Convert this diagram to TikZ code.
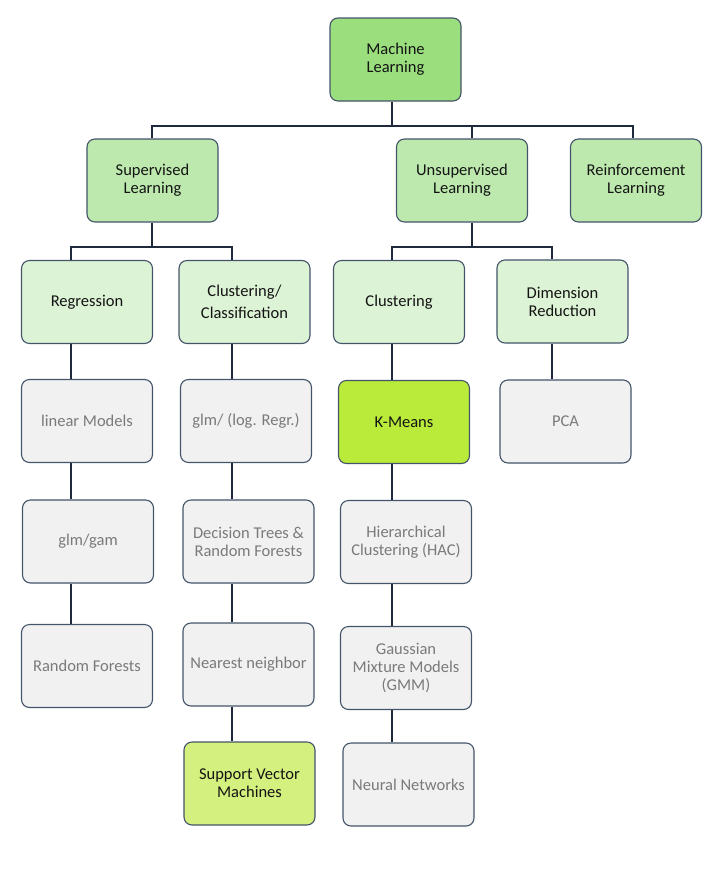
\documentclass[tikz,border=0pt]{standalone}
\usepackage{fontspec}
\setmainfont{Carlito}
\definecolor{cML}{HTML}{9ADE7D}
\definecolor{cL2}{HTML}{BDE9AE}
\definecolor{cL3}{HTML}{DDF3D5}
\definecolor{cGray}{HTML}{F1F1F1}
\definecolor{cKM}{HTML}{BAEA3A}
\definecolor{cSVM}{HTML}{D4F07E}
\definecolor{cBorder}{HTML}{44546A}
\definecolor{cLine}{HTML}{1F2A3C}
\definecolor{cGrayText}{HTML}{7A7A7A}
\definecolor{cDarkText}{HTML}{141414}
\tikzset{
  box/.style={draw=cBorder, line width=1.1pt, rounded corners=8pt,
    minimum width=131pt, minimum height=83pt, inner sep=2pt, align=center,
    font=\fontsize{16.5}{18}\selectfont},
  greenbox/.style={box, text=cDarkText},
  graybox/.style={box, fill=cGray, text=cGrayText},
  conn/.style={draw=cLine, line width=2.6pt, line join=miter}
}
\begin{document}
\begin{tikzpicture}[x=1pt,y=-1pt]
\useasboundingbox (0,0) rectangle (720,871);
% nodes
\node[greenbox, fill=cML] (ml) at (395.5,59.5) {Machine\\Learning};
\node[greenbox, fill=cL2] (sup) at (152.5,180.5) {Supervised\\Learning};
\node[greenbox, fill=cL2] (uns) at (462,180.5) {Unsupervised\\Learning};
\node[greenbox, fill=cL2] (rei) at (636,180.5) {Reinforcement\\Learning};
\node[greenbox, fill=cL3] (reg) at (87,302) {Regression};
\node[greenbox, fill=cL3] (cc) at (244.5,302) {Clustering/\\[4pt]Classification};
\node[greenbox, fill=cL3] (clu) at (399,302) {Clustering};
\node[greenbox, fill=cL3] (dim) at (562.5,301.5) {Dimension\\Reduction};
\node[graybox] (lin) at (87,421) {linear Models};
\node[graybox] (glr) at (246,421) {glm/ (log. Regr.)};
\node[greenbox, fill=cKM] (km) at (404,422) {K-Means};
\node[graybox] (pca) at (565.5,421.5) {PCA};
\node[graybox] (gg) at (88,541.5) {glm/gam};
\node[graybox] (dt) at (248.5,541.5) {Decision Trees \&\\Random Forests};
\node[graybox] (hac) at (406,542) {Hierarchical\\Clustering (HAC)};
\node[graybox] (rf) at (87,666) {Random Forests};
\node[graybox] (nn) at (248.5,664.5) {Nearest neighbor};
\node[graybox] (gmm) at (406,668) {Gaussian\\Mixture Models\\(GMM)};
\node[greenbox, fill=cSVM] (svm) at (249.5,783.5) {Support Vector\\Machines};
\node[graybox] (neu) at (408.5,784.5) {Neural Networks};
% junctions
\coordinate (j0) at (392,126);
\coordinate (j1) at (152,126);
\coordinate (j2) at (472,126);
\coordinate (j3) at (633,126);
\coordinate (s0) at (152,247);
\coordinate (s1) at (71,247);
\coordinate (s2) at (232,247);
\coordinate (u0) at (472,247);
\coordinate (u1) at (392,247);
\coordinate (u2) at (552,247);
% top level
\draw[conn] (ml.south -| j0) -- (j0);
\draw[conn] (sup.north -| j1) -- (j1) -- (j3) -- (rei.north -| j3);
\draw[conn] (j2) -- (uns.north -| j2);
% supervised
\draw[conn] (sup.south -| s0) -- (s0);
\draw[conn] (reg.north -| s1) -- (s1) -- (s2) -- (cc.north -| s2);
% unsupervised
\draw[conn] (uns.south -| u0) -- (u0);
\draw[conn] (clu.north -| u1) -- (u1) -- (u2) -- (dim.north -| u2);
% regression column
\draw[conn] (reg.south -| s1) -- (lin.north -| s1);
\draw[conn] (lin.south -| s1) -- (gg.north -| s1);
\draw[conn] (gg.south -| s1) -- (rf.north -| s1);
% classification column
\draw[conn] (cc.south -| s2) -- (glr.north -| s2);
\draw[conn] (glr.south -| s2) -- (dt.north -| s2);
\draw[conn] (dt.south -| s2) -- (nn.north -| s2);
\draw[conn] (nn.south -| s2) -- (svm.north -| s2);
% clustering column
\draw[conn] (clu.south -| u1) -- (km.north -| u1);
\draw[conn] (km.south -| u1) -- (hac.north -| u1);
\draw[conn] (hac.south -| u1) -- (gmm.north -| u1);
\draw[conn] (gmm.south -| u1) -- (neu.north -| u1);
% dimension reduction
\draw[conn] (dim.south -| u2) -- (pca.north -| u2);
\end{tikzpicture}
\end{document}
